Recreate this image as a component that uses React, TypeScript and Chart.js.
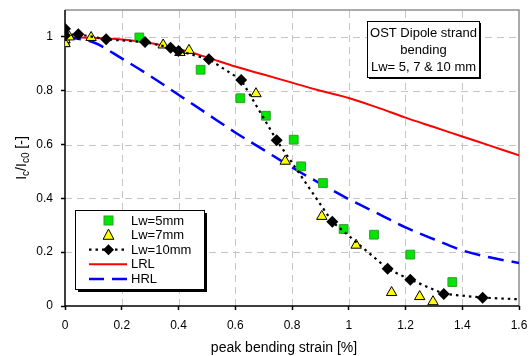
import React, { useEffect, useRef } from "react";
import { Chart, registerables } from "chart.js";

Chart.register(...registerables);

// ---------- data ----------
const xTicks = [0, 0.2, 0.4, 0.6, 0.8, 1, 1.2, 1.4, 1.6];
const yTicks = [0, 0.2, 0.4, 0.6, 0.8, 1];
const xMin = 0;
const xMax = 1.6;
const yMin = 0;
const yMax = 1.1;

const lw5X = [0, 0.262, 0.478, 0.618, 0.708, 0.806, 0.832, 0.909, 0.982, 1.089, 1.217, 1.365];
const lw5Y = [0.98, 0.998, 0.878, 0.772, 0.707, 0.618, 0.519, 0.457, 0.286, 0.265, 0.191, 0.089];

const lw7X = [0, 0, 0.015, 0.092, 0.346, 0.405, 0.437, 0.673, 0.776, 0.905, 1.026, 1.151, 1.25, 1.297];
const lw7Y = [0.99, 0.975, 1.0, 0.998, 0.97, 0.942, 0.95, 0.789, 0.538, 0.333, 0.226, 0.05, 0.035, 0.016];

const lw10X = [0, 0, 0.047, 0.145, 0.282, 0.372, 0.4, 0.507, 0.621, 0.746, 0.942, 1.137, 1.217, 1.335, 1.472, 1.6];
const lw10Y = [1.03, 1.005, 1.01, 0.991, 0.981, 0.96, 0.948, 0.917, 0.84, 0.616, 0.313, 0.138, 0.098, 0.045, 0.031, 0.025];
const lw10Marker = [1, 1, 1, 1, 1, 1, 1, 1, 1, 1, 1, 1, 1, 1, 1, 0];

const curveX = [0, 0.1, 0.2, 0.3, 0.4, 0.5, 0.6, 0.7, 0.8, 0.9, 1.0, 1.1, 1.2, 1.3, 1.4, 1.5, 1.6];
const lrlY = [1.0, 0.997, 0.99, 0.977, 0.955, 0.924, 0.89, 0.86, 0.83, 0.8, 0.773, 0.738, 0.7, 0.665, 0.63, 0.595, 0.56];
const hrlY = [1.0, 0.98, 0.92, 0.855, 0.785, 0.715, 0.645, 0.58, 0.515, 0.455, 0.397, 0.345, 0.292, 0.248, 0.207, 0.18, 0.16];

const seriesNames = ["Lw=5mm", "Lw=7mm", "Lw=10mm", "LRL", "HRL"];
const noteLines = ["OST Dipole strand", "bending", "Lw= 5, 7 & 10 mm"];
const xTitle = "peak bending strain [%]";

// ---------- styles ----------
const FONT = "'Liberation Sans', Arial, sans-serif";
const GREEN = "#00e600";
const GREEN_EDGE = "#2f9e2f";
const YELLOW = "#ffff00";
const RED = "#ff0000";
const BLUE = "#0000ff";
const GRID = "#c4c4c4";

const pts = (xs: number[], ys: number[]) => xs.map((x, i) => ({ x, y: ys[i] }));
const fmt = (v: any) => String(Math.round(Number(v) * 100) / 100);

function drawSquare(ctx: CanvasRenderingContext2D, x: number, y: number, s: number) {
  ctx.fillStyle = GREEN;
  ctx.strokeStyle = GREEN_EDGE;
  ctx.lineWidth = 1;
  ctx.fillRect(x - s / 2, y - s / 2, s, s);
  ctx.strokeRect(x - s / 2, y - s / 2, s, s);
}
function drawTriangle(ctx: CanvasRenderingContext2D, x: number, y: number, r: number) {
  ctx.beginPath();
  ctx.moveTo(x, y - r);
  ctx.lineTo(x + r * 0.9, y + r * 0.7);
  ctx.lineTo(x - r * 0.9, y + r * 0.7);
  ctx.closePath();
  ctx.fillStyle = YELLOW;
  ctx.fill();
  ctx.strokeStyle = "#000";
  ctx.lineWidth = 1;
  ctx.stroke();
}
function drawDiamond(ctx: CanvasRenderingContext2D, x: number, y: number, r: number) {
  ctx.beginPath();
  ctx.moveTo(x, y - r);
  ctx.lineTo(x + r, y);
  ctx.lineTo(x, y + r);
  ctx.lineTo(x - r, y);
  ctx.closePath();
  ctx.fillStyle = "#000";
  ctx.fill();
}

const decorPlugin = {
  id: "decor",
  beforeDatasetsDraw(chart: any) {
    const ctx: CanvasRenderingContext2D = chart.ctx;
    const xs = chart.scales.x;
    const ys = chart.scales.y;
    const { left, right, top, bottom } = chart.chartArea;
    ctx.save();
    // dashed grid
    ctx.strokeStyle = GRID;
    ctx.lineWidth = 1;
    ctx.setLineDash([7, 5]);
    xTicks.forEach((v) => {
      if (v === xMin || v === xMax) return;
      const px = Math.round(xs.getPixelForValue(v)) + 0.5;
      ctx.beginPath();
      ctx.moveTo(px, bottom);
      ctx.lineTo(px, top);
      ctx.stroke();
    });
    yTicks.forEach((v) => {
      if (v === yMin) return;
      const py = Math.round(ys.getPixelForValue(v)) + 0.5;
      ctx.beginPath();
      ctx.moveTo(left, py);
      ctx.lineTo(right, py);
      ctx.stroke();
    });
    ctx.setLineDash([]);
    // top/right frame
    ctx.strokeStyle = "#8e8e8e";
    ctx.lineWidth = 1.5;
    ctx.beginPath();
    ctx.moveTo(left, top);
    ctx.lineTo(right, top);
    ctx.lineTo(right, bottom);
    ctx.stroke();
    // axes
    ctx.strokeStyle = "#000";
    ctx.lineWidth = 1.5;
    ctx.beginPath();
    ctx.moveTo(left, top);
    ctx.lineTo(left, bottom);
    ctx.lineTo(right, bottom);
    ctx.stroke();
    ctx.restore();
  },
  afterDraw(chart: any) {
    const ctx: CanvasRenderingContext2D = chart.ctx;
    const { left, right } = chart.chartArea;
    ctx.save();

    // ----- legend box -----
    const lx = 75, ly = 210, lw = 129, lh = 79;
    ctx.fillStyle = "#000";
    ctx.fillRect(lx + 3, ly + 3, lw, lh);
    ctx.fillStyle = "#fff";
    ctx.fillRect(lx, ly, lw, lh);
    ctx.strokeStyle = "#000";
    ctx.lineWidth = 1;
    ctx.strokeRect(lx + 0.5, ly + 0.5, lw, lh);
    const rowY0 = 220.5;
    const rowStep = 14.6;
    const symX = 108.5;
    const lineX0 = 89, lineX1 = 127;
    ctx.font = `13px ${FONT}`;
    ctx.textBaseline = "middle";
    ctx.textAlign = "left";
    seriesNames.forEach((name, i) => {
      const y = rowY0 + i * rowStep;
      if (i === 0) drawSquare(ctx, symX, y, 9);
      if (i === 1) drawTriangle(ctx, symX, y, 6);
      if (i === 2) {
        ctx.strokeStyle = "#000";
        ctx.lineWidth = 2.2;
        ctx.setLineDash([2.5, 4]);
        ctx.beginPath();
        ctx.moveTo(lineX0, y);
        ctx.lineTo(lineX1, y);
        ctx.stroke();
        ctx.setLineDash([]);
        drawDiamond(ctx, symX, y, 5.5);
      }
      if (i === 3) {
        ctx.strokeStyle = RED;
        ctx.lineWidth = 2;
        ctx.beginPath();
        ctx.moveTo(lineX0, y);
        ctx.lineTo(lineX1, y);
        ctx.stroke();
      }
      if (i === 4) {
        ctx.strokeStyle = BLUE;
        ctx.lineWidth = 2.5;
        ctx.setLineDash([15, 8]);
        ctx.beginPath();
        ctx.moveTo(lineX0, y);
        ctx.lineTo(lineX1, y);
        ctx.stroke();
        ctx.setLineDash([]);
      }
      ctx.fillStyle = "#000";
      ctx.fillText(name, 131, y + 0.5);
    });

    // ----- note box -----
    const nx = 367, ny = 21, nw = 112, nh = 56;
    ctx.fillStyle = "#000";
    ctx.fillRect(nx + 2, ny + 2, nw, nh);
    ctx.fillStyle = "#fff";
    ctx.fillRect(nx, ny, nw, nh);
    ctx.strokeStyle = "#000";
    ctx.lineWidth = 1;
    ctx.strokeRect(nx + 0.5, ny + 0.5, nw, nh);
    ctx.fillStyle = "#000";
    ctx.textAlign = "center";
    ctx.textBaseline = "middle";
    noteLines.forEach((t, i) => ctx.fillText(t, nx + nw / 2 + 0.5, 33.5 + i * 16.8));

    // ----- x title -----
    ctx.font = `14px ${FONT}`;
    ctx.textAlign = "center";
    ctx.textBaseline = "alphabetic";
    ctx.fillText(xTitle, (left + right) / 2 - 8, 352);

    // ----- y title: I_c/I_c0 [-] -----
    const parts: [string, boolean][] = [["I", false], ["c", true], ["/I", false], ["c0", true], [" [-]", false]];
    const mainF = `14px ${FONT}`;
    const subF = `10px ${FONT}`;
    let total = 0;
    parts.forEach(([t, sub]) => {
      ctx.font = sub ? subF : mainF;
      total += ctx.measureText(t).width;
    });
    ctx.translate(26, 158);
    ctx.rotate(-Math.PI / 2);
    ctx.textAlign = "left";
    let cx = -total / 2;
    parts.forEach(([t, sub]) => {
      ctx.font = sub ? subF : mainF;
      ctx.fillText(t, cx, sub ? 3 : 0);
      cx += ctx.measureText(t).width;
    });
    ctx.restore();
  },
};

export default function App() {
  const ref = useRef<HTMLCanvasElement>(null);
  useEffect(() => {
    if (!ref.current) return;
    const chart = new Chart(ref.current, {
      type: "scatter",
      data: {
        datasets: [
          {
            label: seriesNames[3],
            data: pts(curveX, lrlY),
            showLine: true,
            borderColor: RED,
            borderWidth: 2,
            pointRadius: 0,
            cubicInterpolationMode: "monotone",
            order: 5,
          },
          {
            label: seriesNames[4],
            data: pts(curveX, hrlY),
            showLine: true,
            borderColor: BLUE,
            borderWidth: 2.5,
            borderDash: [16, 8],
            pointRadius: 0,
            cubicInterpolationMode: "monotone",
            order: 4,
          },
          {
            label: seriesNames[0],
            data: pts(lw5X, lw5Y),
            pointStyle: "rect",
            pointRadius: 6.2,
            backgroundColor: GREEN,
            borderColor: GREEN_EDGE,
            borderWidth: 1,
            order: 3,
          },
          {
            label: seriesNames[1],
            data: pts(lw7X, lw7Y),
            pointStyle: "triangle",
            pointRadius: 6,
            backgroundColor: YELLOW,
            borderColor: "#000",
            borderWidth: 1,
            order: 2,
          },
          {
            label: seriesNames[2],
            data: pts(lw10X, lw10Y),
            showLine: true,
            borderColor: "#000",
            borderWidth: 2.2,
            borderDash: [2.5, 4],
            pointStyle: "rectRot",
            pointRadius: lw10Marker.map((m) => (m ? 6 : 0)),
            pointBackgroundColor: "#000",
            pointBorderColor: "#000",
            pointBorderWidth: 0,
            order: 1,
          },
        ],
      },
      options: {
        animation: false,
        responsive: false,
        layout: { padding: { top: 10, right: 13, left: 0, bottom: 0 } },
        plugins: { legend: { display: false }, tooltip: { enabled: false } },
        scales: {
          x: {
            type: "linear",
            min: xMin,
            max: xMax,
            afterBuildTicks: (s: any) => {
              s.ticks = xTicks.map((v) => ({ value: v }));
            },
            afterFit: (s: any) => {
              s.height = 50;
              s.paddingLeft = 0;
              s.paddingRight = 0;
            },
            grid: { drawOnChartArea: false, drawTicks: true, tickLength: 4, tickColor: "#000", tickWidth: 1.5 },
            border: { display: false },
            ticks: { color: "#000", font: { family: FONT, size: 12 }, padding: 8, maxRotation: 0, autoSkip: false, callback: fmt },
          },
          y: {
            type: "linear",
            min: yMin,
            max: yMax,
            afterBuildTicks: (s: any) => {
              s.ticks = yTicks.map((v) => ({ value: v }));
            },
            afterFit: (s: any) => {
              s.width = 65;
              s.paddingTop = 0;
              s.paddingBottom = 0;
            },
            grid: { drawOnChartArea: false, drawTicks: true, tickLength: 4, tickColor: "#000", tickWidth: 1.5 },
            border: { display: false },
            ticks: { color: "#000", font: { family: FONT, size: 12 }, padding: 8, autoSkip: false, callback: fmt },
          },
        },
      },
      plugins: [decorPlugin],
    } as any);
    return () => chart.destroy();
  }, []);
  return (
    <div style={{ position: "fixed", left: 0, top: 0, width: 532, height: 356, background: "#fff" }}>
      <canvas ref={ref} width={532} height={356} style={{ display: "block" }} />
    </div>
  );
}
